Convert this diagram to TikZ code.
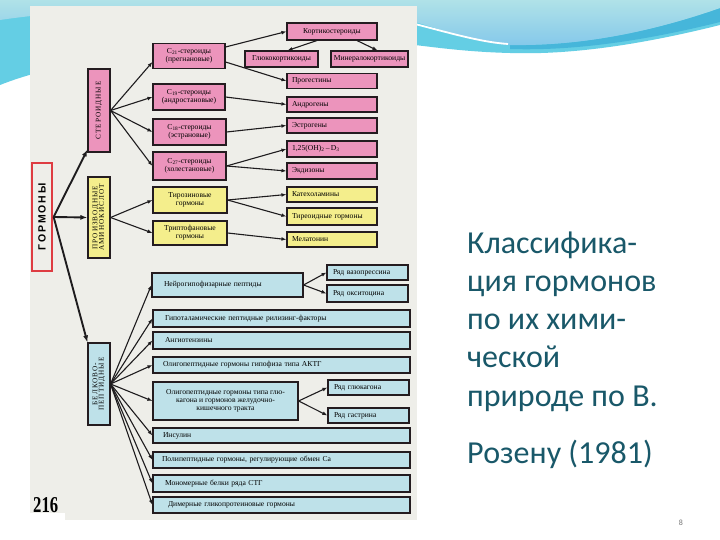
\documentclass[tikz,border=0pt]{standalone}
\usepackage{fontspec}
\setmainfont{Liberation Serif}
\newfontfamily\slidefont{Carlito}
\newfontfamily\hormfont[LetterSpace=18]{Liberation Sans}
\newfontfamily\vlabfont[LetterSpace=14]{Liberation Serif}
\usetikzlibrary{arrows.meta,calc}
\definecolor{scanbg}{RGB}{238,238,233}
\definecolor{pinkc}{RGB}{236,148,188}
\definecolor{yelc}{RGB}{244,238,140}
\definecolor{bluec}{RGB}{190,225,233}
\definecolor{boxline}{RGB}{36,28,32}
\definecolor{arrowc}{RGB}{30,28,30}
\definecolor{hormred}{RGB}{222,60,66}
\definecolor{titlec}{RGB}{25,88,105}
\definecolor{waveA}{RGB}{176,226,232}
\definecolor{waveB}{RGB}{132,200,234}
\definecolor{waveC}{RGB}{100,206,228}
\definecolor{waveD}{RGB}{70,182,218}
\begin{document}
\begin{tikzpicture}[x=1pt,y=-1pt,
  bx/.style={draw=boxline, line width=1.1pt, inner ysep=1pt, inner xsep=2pt,
     font=\fontsize{7.6}{8}\selectfont, align=center},
  pk/.style={bx, fill=pinkc},
  yl/.style={bx, fill=yelc},
  bl/.style={bx, fill=bluec},
  lft/.style={align=left, inner xsep=#1},
  vl/.style={bx, minimum width=22, font=\vlabfont\fontsize{7.2}{7.6}\selectfont},
  arr/.style={draw=arrowc, line width=1.1pt, -{Latex[length=5pt,width=3.8pt]}},
  thk/.style={draw=arrowc, line width=1.9pt, -{Latex[length=7pt,width=5pt]}},
  slide/.style={font=\slidefont\fontsize{32}{38}\selectfont, text=titlec, inner sep=0pt, anchor=base west}
]
\useasboundingbox (0,0) rectangle (720,540);
\fill[white] (0,0) rectangle (720,540);
% top wave
\fill[waveC] (0,0) -- (720,0) -- (720,25) .. controls (640,45) and (570,55) .. (510,53)
  .. controls (470,52) and (440,48) .. (415,45) .. controls (300,38) and (100,45) .. (0,85) -- cycle;
\fill[waveD] (720,8) .. controls (640,36) and (570,46) .. (510,45) -- (510,49)
  .. controls (570,51) and (640,42) .. (720,22) -- cycle;
\shade[top color=waveA, bottom color=waveB] (0,0) -- (720,0) -- (720,8) .. controls (640,36) and (570,46) .. (510,45)
  .. controls (480,44) and (450,32) .. (415,22) .. controls (300,0) and (100,5) .. (0,20) -- cycle;
\draw[white, line width=1.8pt] (415,24) .. controls (450,33) and (480,42) .. (508,44);
% scanned page
\fill[scanbg] (30,6) rectangle (417,520);
\fill[white] (30,513) rectangle (65,520);

% left column
\node[draw=hormred, line width=1.3pt, fill=scanbg, minimum width=20, minimum height=108, inner sep=0pt] (horm) at (42,217)
  {\rotatebox{90}{\hormfont\bfseries\fontsize{10.5}{11}\selectfont ГОРМОНЫ}};
\node[vl, fill=pinkc, minimum height=83] (ster) at (99,110.5) {\rotatebox{90}{СТЕРОИДНЫЕ}};
\node[vl, fill=yelc, minimum height=81] (amino) at (99,217.5)
  {\rotatebox{90}{\renewcommand\arraystretch{0.75}\begin{tabular}{@{}c@{}}ПРОИЗВОДНЫЕ\\АМИНОКИСЛОТ\end{tabular}}};
\node[vl, fill=bluec, minimum height=82] (belk) at (99,384)
  {\rotatebox{90}{\renewcommand\arraystretch{0.75}\begin{tabular}{@{}c@{}}БЕЛКОВО-\\ПЕПТИДНЫЕ\end{tabular}}};

% steroid column
\node[pk, minimum width=72, minimum height=25] (c21) at (189,56) {C\textsubscript{21}-стероиды\\(прегнановые)};
\node[pk, minimum width=72, minimum height=26] (c19) at (189,97) {C\textsubscript{19}-стероиды\\(андростановые)};
\node[pk, minimum width=73, minimum height=26] (c18) at (189.5,132) {C\textsubscript{18}-стероиды\\(эстрановые)};
\node[pk, minimum width=73, minimum height=28] (c27) at (189.5,166) {C\textsubscript{27}-стероиды\\(холестановые)};

\node[pk, minimum width=90, minimum height=17] (kort) at (332,31.5) {Кортикостероиды};
\node[pk, minimum width=73, minimum height=16] (gluko) at (281.5,59) {Глюкокортикоиды};
\node[pk, minimum width=77, minimum height=16] (miner) at (369.5,59) {Минералокортикоиды};
\node[pk, lft=5pt, text width=80, minimum height=15] (prog) at (332,81) {Прогестины};
\node[pk, lft=5pt, text width=80, minimum height=15] (andr) at (332,104.5) {Андрогены};
\node[pk, lft=5pt, text width=80, minimum height=15] (estr) at (332,125.5) {Эстрогены};
\node[pk, lft=5pt, text width=80, minimum height=16] (d3) at (332,149) {1,25(OH)\textsubscript{2}\,–\,D\textsubscript{3}};
\node[pk, lft=5pt, text width=80, minimum height=16] (ekd) at (332,171) {Экдизоны};

% amino-acid derivatives
\node[yl, minimum width=74, minimum height=26] (tyr) at (190,200) {Тирозиновые\\гормоны};
\node[yl, minimum width=74, minimum height=24] (trp) at (190,233) {Триптофановые\\гормоны};
\node[yl, lft=5pt, text width=80, minimum height=15] (kat) at (332,194.5) {Катехоламины};
\node[yl, lft=5pt, text width=80, minimum height=17] (tir) at (332,216.5) {Тиреоидные гормоны};
\node[yl, lft=5pt, text width=80, minimum height=15] (mel) at (332,239.5) {Мелатонин};

% protein-peptide
\node[bl, lft=12pt, text width=127, minimum height=24] (neuro) at (227.5,285) {Нейрогипофизарные пептиды};
\node[bl, lft=6pt, text width=69, minimum height=15] (vaso) at (367.5,272.5) {Ряд вазопрессина};
\node[bl, lft=6pt, text width=69, minimum height=17] (oxy) at (367.5,293.5) {Ряд окситоцина};
\node[bl, lft=12pt, text width=233, minimum height=17] (hypo) at (281.5,318.5) {Гипоталамические пептидные рилизинг-факторы};
\node[bl, lft=12pt, text width=233, minimum height=17] (angio) at (281.5,340.5) {Ангиотензины};
\node[bl, lft=10pt, text width=237, minimum height=16] (acth) at (281.5,365) {Олигопептидные гормоны гипофиза типа АКТГ};
\node[bl, minimum width=145, minimum height=38] (glucg) at (225.5,401) {Олигопептидные гормоны типа глю-\\кагона и гормонов желудочно-\\кишечного тракта};
\node[bl, lft=6pt, text width=69, minimum height=15] (rglu) at (368.5,387.5) {Ряд глюкагона};
\node[bl, lft=6pt, text width=69, minimum height=15] (rgas) at (368.5,415.5) {Ряд гастрина};
\node[bl, lft=10pt, text width=237, minimum height=15] (ins) at (281.5,435.5) {Инсулин};
\node[bl, lft=9pt, text width=239, minimum height=16] (poly) at (281.5,460) {Полипептидные гормоны, регулирующие обмен Са};
\node[bl, lft=12pt, text width=233, minimum height=17] (mono) at (281.5,483.5) {Мономерные белки ряда СТГ};
\node[bl, lft=15pt, text width=227, minimum height=16] (dim) at (281.5,505) {Димерные гликопротеиновые гормоны};

% thick arrows from ГОРМОНЫ
\draw[thk] ($(horm.east)+(1,0)$) -- ($(ster.south west)+(0,-3)$);
\draw[thk] ($(horm.east)+(1,0)$) -- (amino.west);
\draw[thk] ($(horm.east)+(1,0)$) -- (belk.north west);

% fans
\foreach \t/\dy in {c21/6, c19/0, c18/0, c27/0} \draw[arr] (ster.east) -- ($(\t.west)+(0,\dy)$);
\foreach \t in {tyr, trp} \draw[arr] (amino.east) -- (\t.west);
\foreach \t in {neuro, hypo, angio, acth, glucg, ins, poly, mono, dim} \draw[arr] (belk.east) -- (\t.west);

\draw[arr] ($(c21.east)+(0,-9)$) -- (kort.west);
\draw[arr] ($(c21.east)+(0,6)$) -- (prog.west);
\draw[arr] ($(kort.south)+(-15,0)$) -- ($(gluko.north)+(6,0)$);
\draw[arr] ($(kort.south)+(25,0)$) -- ($(miner.north)+(8,0)$);
\draw[arr] (c19.east) -- (andr.west);
\draw[arr] (c18.east) -- (estr.west);
\draw[arr] (c27.east) -- (d3.west);
\draw[arr] (c27.east) -- (ekd.west);
\draw[arr] (tyr.east) -- (kat.west);
\draw[arr] (tyr.east) -- (tir.west);
\draw[arr] (trp.east) -- (mel.west);
\draw[arr] (neuro.east) -- (vaso.west);
\draw[arr] (neuro.east) -- (oxy.west);
\draw[arr] (glucg.east) -- (rglu.west);
\draw[arr] (glucg.east) -- (rgas.west);

% page number of the book
\node[inner sep=0pt, anchor=south west] (bookpg) at (33,513) {\resizebox{25pt}{15pt}{\bfseries 216}};

% slide text
\node[slide] (t1) at (467,253) {Классифика-};
\node[slide] (t2) at (467,291) {ция гормонов};
\node[slide] (t3) at (467,329) {по их хими-};
\node[slide] (t4) at (467,367) {ческой};
\node[slide] (t5) at (467,406) {природе по В.};
\node[slide] (t6) at (467,463) {Розену (1981)};
\node[font=\slidefont\fontsize{8}{9}\selectfont, text=black!55, inner sep=0pt] (pg) at (681,523) {8};
\end{tikzpicture}
\end{document}
